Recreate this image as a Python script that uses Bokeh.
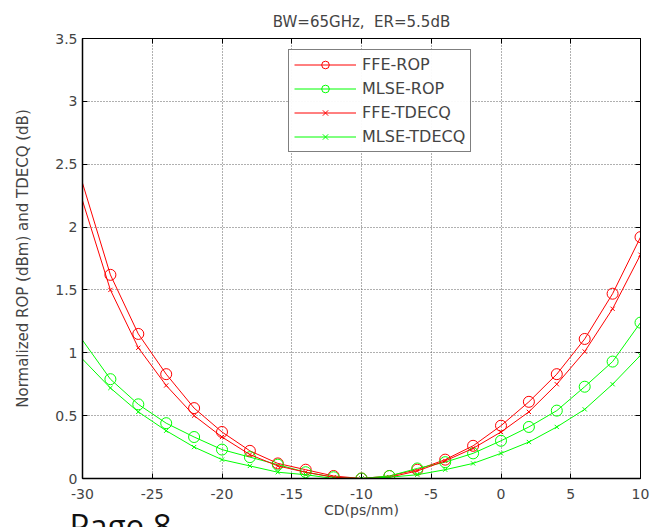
from bokeh.plotting import figure
from bokeh.models import LinearAxis, Legend, LegendItem, Title, FixedTicker, Range1d
from bokeh.embed import file_html
from bokeh.resources import INLINE

cd_line = [-30, -28, -26, -24, -22, -20, -18, -16, -14, -12, -10, -8, -6, -4, -2, 0, 2, 4, 6, 8, 10]
ffe_rop = [2.35, 1.62, 1.15, 0.83, 0.56, 0.37, 0.22, 0.12, 0.07, 0.02, 0.0, 0.02, 0.07, 0.15, 0.26, 0.42, 0.61, 0.83, 1.11, 1.47, 1.92]
mlse_rop = [1.10, 0.79, 0.59, 0.44, 0.33, 0.23, 0.17, 0.11, 0.05, 0.01, 0.0, 0.02, 0.08, 0.13, 0.20, 0.30, 0.41, 0.54, 0.73, 0.93, 1.24]
ffe_tdecq = [2.21, 1.50, 1.04, 0.74, 0.50, 0.33, 0.19, 0.10, 0.05, 0.01, 0.0, 0.01, 0.06, 0.14, 0.24, 0.37, 0.53, 0.75, 1.01, 1.35, 1.78]
mlse_tdecq = [0.95, 0.72, 0.53, 0.38, 0.25, 0.15, 0.10, 0.05, 0.03, 0.00, 0.0, 0.01, 0.03, 0.07, 0.12, 0.20, 0.29, 0.41, 0.55, 0.75, 0.98]

x_ticks = [-30, -25, -20, -15, -10, -5, 0, 5, 10]
x_tick_labels = ["-30", "-25", "-20", "-15", "-10", "-5", "0", "5", "10"]
y_ticks = [0, 0.5, 1, 1.5, 2, 2.5, 3, 3.5]
y_tick_labels = ["0", "0.5", "1", "1.5", "2", "2.5", "3", "3.5"]

FONT = "DejaVu Sans"
RED = "#ff0000"
GREEN = "#00ff00"

p = figure(frame_width=558, frame_height=440, output_backend="svg", toolbar_location=None,
           x_range=Range1d(-30, 10), y_range=Range1d(0, 3.5),
           min_border_left=82, min_border_right=30, min_border_top=38, min_border_bottom=0,
           title="BW=65GHz,\u00a0 ER=5.5dB")
p.title.align = "center"
p.title.text_font = FONT
p.title.text_font_size = "15px"
p.title.text_font_style = "normal"
p.title.offset = 0
p.title.standoff = 15

p.outline_line_color = "black"
p.outline_line_width = 1
p.background_fill_color = "white"
p.border_fill_color = "white"

for ax in (p.xaxis[0], p.yaxis[0]):
    ax.major_tick_in = 5
    ax.major_tick_out = 0
    ax.minor_tick_line_color = None
    ax.axis_line_color = "black"
    ax.axis_line_width = 1.5
    ax.major_label_text_font = FONT
    ax.major_label_text_font_size = "14px"
    ax.axis_label_text_font = FONT
    ax.axis_label_text_font_style = "normal"

p.xaxis.ticker = FixedTicker(ticks=x_ticks)
p.yaxis.ticker = FixedTicker(ticks=y_ticks)
p.xaxis.major_label_overrides = {t: l for t, l in zip(x_ticks, x_tick_labels)}
p.yaxis.major_label_overrides = {t: l for t, l in zip(y_ticks, y_tick_labels)}
p.xaxis.axis_label = "CD(ps/nm)"
p.yaxis.axis_label = "Normalized ROP (dBm) and TDECQ (dB)"
p.xaxis.axis_label_text_font_size = "14px"
p.yaxis.axis_label_text_font_size = "15px"
p.xaxis.major_label_standoff = 10
p.xaxis.axis_label_standoff = 0
p.yaxis.major_label_standoff = 5
p.yaxis.axis_label_standoff = 20

# top / right axes with inward ticks only
top = LinearAxis(ticker=FixedTicker(ticks=x_ticks), major_tick_in=5, major_tick_out=0,
                 minor_tick_line_color=None, major_label_text_font_size="1px",
                 major_label_overrides={t: "" for t in x_ticks},
                 major_label_standoff=0, axis_line_color="black")
right = LinearAxis(ticker=FixedTicker(ticks=y_ticks), major_tick_in=5, major_tick_out=0,
                   minor_tick_line_color=None, major_label_text_font_size="1px",
                   major_label_overrides={t: "" for t in y_ticks},
                   major_label_standoff=0, axis_line_color="black")
p.add_layout(top, "above")
p.add_layout(right, "right")

p.grid.grid_line_color = "#606060"
p.grid.grid_line_dash = "1 2"
p.grid.grid_line_width = 1
p.xgrid.ticker = FixedTicker(ticks=x_ticks)
p.ygrid.ticker = FixedTicker(ticks=y_ticks)

series = [
    ("FFE-ROP", ffe_rop, RED, "circle", 11),
    ("MLSE-ROP", mlse_rop, GREEN, "circle", 11),
    ("FFE-TDECQ", ffe_tdecq, RED, "x", 6),
    ("MLSE-TDECQ", mlse_tdecq, GREEN, "x", 6),
]
items = []
for name, ys, col, mk, sz in series:
    l = p.line(cd_line, ys, line_color=col, line_width=1)
    s = p.scatter(cd_line[1:], ys[1:], marker=mk, size=sz, line_color=col,
                  fill_color=col, fill_alpha=0, line_width=1)
    items.append(LegendItem(label=name, renderers=[l, s]))

legend = Legend(items=items, location=(206, 326))
legend.label_text_font = FONT
legend.label_text_font_size = "16px"
legend.border_line_color = "black"
legend.border_line_width = 1.5
legend.glyph_width = 62
legend.glyph_height = 19
legend.label_height = 19
legend.spacing = 5
legend.padding = 5
legend.margin = 0
legend.label_standoff = 6
p.add_layout(legend, "center")

page = Title(text="Page 8", align="left", offset=-13, standoff=-39,
             text_font="Open Sans", text_font_size="33px", text_color="#111111",
             text_font_style="normal")
p.add_layout(page, "below")

open("out.html", "w").write(file_html(p, INLINE))
